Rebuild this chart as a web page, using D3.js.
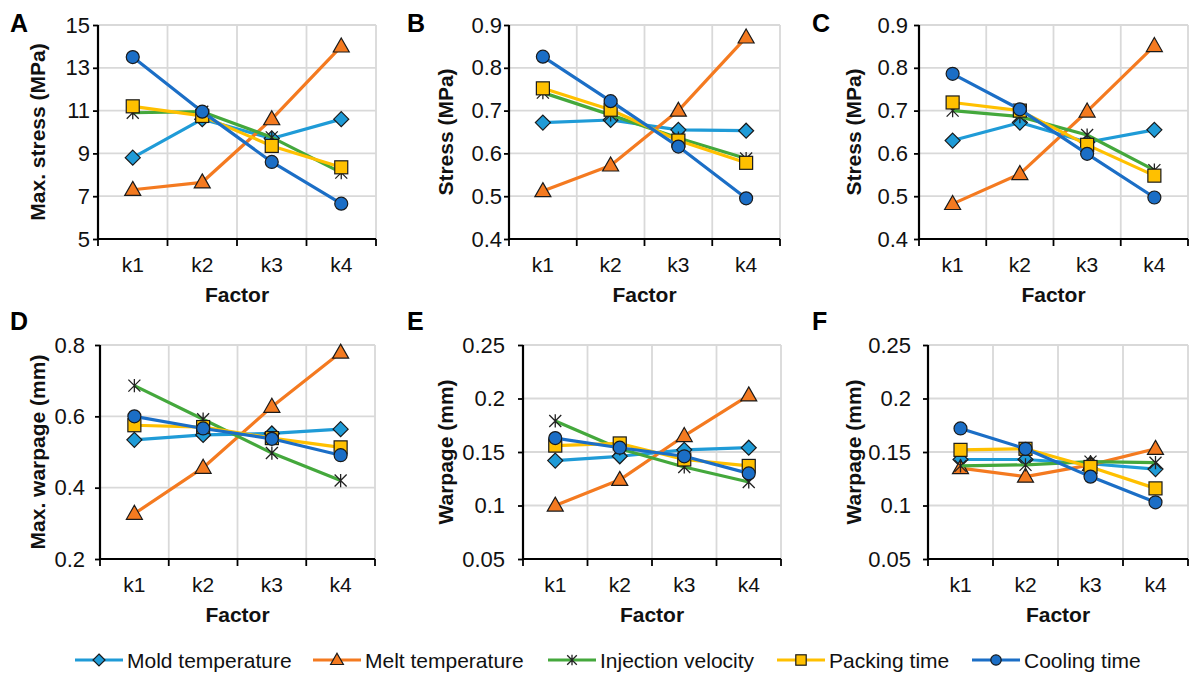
<!DOCTYPE html>
<html>
<head>
<meta charset="utf-8">
<script src="https://cdn.jsdelivr.net/npm/d3@7/dist/d3.min.js"></script>
<style>
  html, body { margin: 0; padding: 0; background: #fff; }
  svg { display: block; font-family: "Liberation Sans", Arial, sans-serif; }
</style>
</head>
<body>
<svg id="chart" width="1189" height="673"></svg>
<script>
// Levels of each factor
const factors = ["k1", "k2", "k3", "k4"];
const seriesNames = ["Mold temperature", "Melt temperature", "Injection velocity", "Packing time", "Cooling time"];
const seriesColors = ["#1f9bd7", "#f47a20", "#44a83c", "#ffc000", "#1b6ec6"];
const seriesShapes = ["diamond", "triangle", "star", "square", "circle"];

// Mean response per level, one row per factor (order of seriesNames)
const maxStress = [
  [8.8, 10.6, 9.7, 10.6],
  [7.3, 7.65, 10.6, 14.0],
  [10.9, 10.95, 9.75, 8.1],
  [11.2, 10.75, 9.35, 8.35],
  [13.5, 10.95, 8.6, 6.65]
];
const stressB = [
  [0.672, 0.678, 0.655, 0.653],
  [0.512, 0.572, 0.700, 0.871],
  [0.742, 0.690, 0.636, 0.588],
  [0.752, 0.702, 0.630, 0.578],
  [0.826, 0.722, 0.616, 0.495]
];
const stressC = [
  [0.630, 0.672, 0.626, 0.655],
  [0.482, 0.552, 0.698, 0.851],
  [0.700, 0.686, 0.643, 0.561],
  [0.719, 0.700, 0.620, 0.548],
  [0.786, 0.703, 0.599, 0.497]
];
const maxWarpage = [
  [0.534, 0.548, 0.552, 0.564],
  [0.327, 0.456, 0.627, 0.779],
  [0.686, 0.592, 0.497, 0.420],
  [0.575, 0.570, 0.539, 0.513],
  [0.600, 0.566, 0.537, 0.491]
];
const warpageE = [
  [0.142, 0.146, 0.152, 0.154],
  [0.100, 0.124, 0.165, 0.203],
  [0.179, 0.153, 0.136, 0.122],
  [0.156, 0.158, 0.143, 0.137],
  [0.163, 0.154, 0.146, 0.130]
];
const warpageF = [
  [0.143, 0.143, 0.139, 0.134],
  [0.135, 0.127, 0.138, 0.153],
  [0.137, 0.138, 0.141, 0.140],
  [0.152, 0.153, 0.136, 0.116],
  [0.172, 0.153, 0.127, 0.103]
];

// Axis ticks
const ticksMaxStress = [5, 7, 9, 11, 13, 15];
const ticksStress = [0.4, 0.5, 0.6, 0.7, 0.8, 0.9];
const ticksMaxWarpage = [0.2, 0.4, 0.6, 0.8];
const ticksWarpage = [0.05, 0.1, 0.15, 0.2, 0.25];

const panels = [
  { letter: "A", data: maxStress, ticks: ticksMaxStress, yTitle: "Max. stress (MPa)", x0: 98, x1: 376, y0: 25, y1: 239, titleX: 37, letterX: 10, letterY: 32, pad: 3 },
  { letter: "B", data: stressB, ticks: ticksStress, yTitle: "Stress (MPa)", x0: 509, x1: 780, y0: 25, y1: 239, titleX: 445, letterX: 407, letterY: 32, pad: 2 },
  { letter: "C", data: stressC, ticks: ticksStress, yTitle: "Stress (MPa)", x0: 919, x1: 1188, y0: 25, y1: 239, titleX: 853, letterX: 812, letterY: 32, pad: 6 },
  { letter: "D", data: maxWarpage, ticks: ticksMaxWarpage, yTitle: "Max. warpage (mm)", x0: 100, x1: 375, y0: 345, y1: 559, titleX: 37, letterX: 10, letterY: 330, pad: 10 },
  { letter: "E", data: warpageE, ticks: ticksWarpage, yTitle: "Warpage (mm)", x0: 523, x1: 781, y0: 345, y1: 559, titleX: 445, letterX: 407, letterY: 330, pad: 13 },
  { letter: "F", data: warpageF, ticks: ticksWarpage, yTitle: "Warpage (mm)", x0: 928, x1: 1188, y0: 345, y1: 559, titleX: 853, letterX: 812, letterY: 330, pad: 12 }
];

const svg = d3.select("#chart");
const fmt = d3.format("~g");
const gridColor = "#d9d9d9";
const markerStroke = "#1a1a1a";

// Draws one marker shape centred on the origin of g
function drawMarker(g, shape, color, scale = 1) {
  if (shape === "circle") {
    g.append("circle").attr("r", 6.5 * scale)
      .attr("fill", color).attr("stroke", markerStroke).attr("stroke-width", 1.2);
  } else if (shape === "diamond") {
    const s = 7.5 * scale;
    g.append("path").attr("d", `M0,${-s}L${s},0L0,${s}L${-s},0Z`)
      .attr("fill", color).attr("stroke", markerStroke).attr("stroke-width", 1.2);
  } else if (shape === "triangle") {
    const h = 14 * scale, w = 16 * scale;
    g.append("path").attr("d", `M0,${-h * 0.6}L${w / 2},${h * 0.4}L${-w / 2},${h * 0.4}Z`)
      .attr("fill", color).attr("stroke", markerStroke).attr("stroke-width", 1.2);
  } else if (shape === "square") {
    const s = 6.5 * scale;
    g.append("rect").attr("x", -s).attr("y", -s).attr("width", 2 * s).attr("height", 2 * s)
      .attr("fill", color).attr("stroke", markerStroke).attr("stroke-width", 1.2);
  } else if (shape === "star") {
    const s = 6 * scale;
    g.append("path")
      .attr("d", `M${-s},${-s}L${s},${s}M${-s},${s}L${s},${-s}M0,${-s * 1.1}L0,${s * 1.1}`)
      .attr("fill", "none").attr("stroke", "#222").attr("stroke-width", 1.3);
  }
}

panels.forEach(p => {
  const x = d3.scaleBand().domain(factors).range([p.x0, p.x1]);
  const y = d3.scaleLinear().domain(d3.extent(p.ticks)).range([p.y1, p.y0]);
  const g = svg.append("g");

  // Gridlines
  g.append("g").selectAll("line").data(p.ticks).join("line")
    .attr("x1", p.x0).attr("x2", p.x1)
    .attr("y1", d => y(d)).attr("y2", d => y(d))
    .attr("stroke", gridColor).attr("stroke-width", 1.8);
  const bounds = factors.map(f => x(f) + x.bandwidth());
  g.append("g").selectAll("line").data(bounds).join("line")
    .attr("x1", d => d).attr("x2", d => d)
    .attr("y1", p.y0).attr("y2", p.y1)
    .attr("stroke", gridColor).attr("stroke-width", 1.8);

  // Y axis
  const yAxis = g.append("g").attr("transform", `translate(${p.x0},0)`)
    .call(d3.axisLeft(y).tickValues(p.ticks).tickFormat(fmt).tickSize(5).tickPadding(p.pad));
  yAxis.select(".domain").attr("stroke", "#000").attr("stroke-width", 2.2).attr("d", `M0,${p.y1}V${p.y0}`);
  yAxis.selectAll(".tick line").attr("stroke", "#000").attr("stroke-width", 1.8);
  yAxis.selectAll(".tick text").attr("font-size", 22).attr("fill", "#111")
    .attr("font-family", "'Liberation Sans', Arial, sans-serif");

  // X axis with ticks on category boundaries
  const xAxis = g.append("g").attr("transform", `translate(0,${p.y1})`);
  xAxis.append("line").attr("x1", p.x0).attr("x2", p.x1).attr("y1", 0).attr("y2", 0)
    .attr("stroke", "#000").attr("stroke-width", 2.2);
  xAxis.selectAll("line.tk").data([p.x0, ...bounds]).join("line").attr("class", "tk")
    .attr("x1", d => d).attr("x2", d => d).attr("y1", 0).attr("y2", 7)
    .attr("stroke", "#000").attr("stroke-width", 1.8);
  xAxis.selectAll("text").data(factors).join("text")
    .attr("x", d => x(d) + x.bandwidth() / 2).attr("y", 33)
    .attr("text-anchor", "middle").attr("font-size", 21).attr("fill", "#111")
    .text(d => d);

  // Axis titles
  g.append("text").attr("x", (p.x0 + p.x1) / 2).attr("y", p.y1 + 63)
    .attr("text-anchor", "middle").attr("font-size", 21).attr("font-weight", "bold")
    .attr("fill", "#111").text("Factor");
  g.append("text")
    .attr("transform", `translate(${p.titleX},${(p.y0 + p.y1) / 2}) rotate(-90)`)
    .attr("text-anchor", "middle").attr("dominant-baseline", "central")
    .attr("font-size", 21).attr("font-weight", "bold").attr("fill", "#111").text(p.yTitle);

  // Panel letter
  g.append("text").attr("x", p.letterX).attr("y", p.letterY)
    .attr("font-size", 25).attr("font-weight", "bold").attr("fill", "#000").text(p.letter);

  // Series: line then markers, later series drawn on top
  const line = d3.line().x((d, i) => x(factors[i]) + x.bandwidth() / 2).y(d => y(d));
  p.data.forEach((vals, si) => {
    const sg = g.append("g");
    sg.append("path").datum(vals).attr("d", line)
      .attr("fill", "none").attr("stroke", seriesColors[si]).attr("stroke-width", 3.2)
      .attr("stroke-linejoin", "round");
    vals.forEach((v, i) => {
      const mg = sg.append("g")
        .attr("transform", `translate(${x(factors[i]) + x.bandwidth() / 2},${y(v)})`);
      drawMarker(mg, seriesShapes[si], seriesColors[si]);
    });
  });
});

// Legend
const legendStarts = [75, 313, 548, 777, 972];
const legendY = 660;
const legend = svg.append("g");
seriesNames.forEach((name, i) => {
  const lx = legendStarts[i];
  const lg = legend.append("g");
  lg.append("line").attr("x1", lx).attr("x2", lx + 48).attr("y1", legendY).attr("y2", legendY)
    .attr("stroke", seriesColors[i]).attr("stroke-width", 3.2);
  const mg = lg.append("g").attr("transform", `translate(${lx + 24},${legendY})`);
  drawMarker(mg, seriesShapes[i], seriesColors[i], 0.8);
  lg.append("text").attr("x", lx + 52).attr("y", legendY)
    .attr("dominant-baseline", "central").attr("font-size", 21).attr("fill", "#111")
    .text(name);
});
</script>
</body>
</html>
